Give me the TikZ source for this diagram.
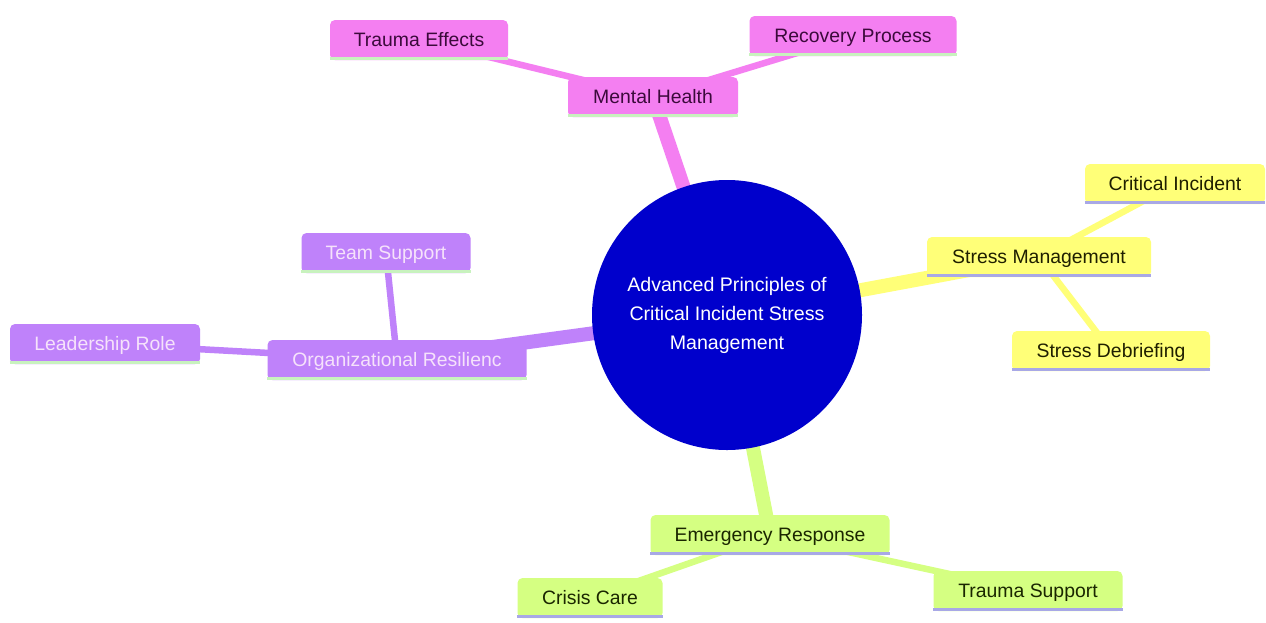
\documentclass[tikz,border=0pt]{standalone}
\usepackage{fontspec}
\setmainfont{Liberation Sans}
\pgfdeclarelayer{bg}
\pgfsetlayers{bg,main}
\definecolor{pinkF}{HTML}{F47FF1}
\definecolor{pinkT}{HTML}{3B0A3B}
\definecolor{yelF}{HTML}{FFFF78}
\definecolor{yelT}{HTML}{1F1F00}
\definecolor{purF}{HTML}{BF82FA}
\definecolor{purT}{HTML}{F6E2FA}
\definecolor{grnF}{HTML}{D5FF82}
\definecolor{grnT}{HTML}{1A2600}
\definecolor{lineG}{HTML}{C8F2BE}
\definecolor{lineL}{HTML}{A8A8E6}
\definecolor{rootF}{HTML}{0000CC}
\newcommand\mmunder[2]{\draw[line width=3pt,#2] ([yshift=1.5pt]#1.south west) -- ([yshift=1.5pt]#1.south east);}
\begin{document}
\begin{tikzpicture}[x=1pt,y=-1pt,
  mm/.style={inner xsep=0pt, inner ysep=0pt, minimum height=40pt, text height=13.8pt, text depth=0pt,
    font=\fontsize{19.4}{23}\selectfont, rounded corners=5pt},
  pinkN/.style={mm, fill=pinkF, text=pinkT},
  yelN/.style={mm, fill=yelF, text=yelT},
  purN/.style={mm, fill=purF, text=purT},
  grnN/.style={mm, fill=grnF, text=grnT},
  mainE/.style={line width=14pt},
  subE/.style={line width=6.5pt}]
\useasboundingbox (0,0) rectangle (1266,622);
\node[circle, fill=rootF, text=white, minimum size=270pt, inner sep=0pt, align=center,
  font=\fontsize{19.6}{29}\selectfont] (root) at (727,315)
  {Advanced Principles of\\Critical Incident Stress\\Management};
% Mental Health
\node[pinkN, minimum width=170pt] (mh) at (653,97) {Mental Health};
\node[pinkN, minimum width=178pt] (te) at (419,40) {Trauma Effects};
\node[pinkN, minimum width=207pt] (rp) at (853,36) {Recovery Process};
% Stress Management
\node[yelN, minimum width=224pt] (sm) at (1039,257) {Stress Management};
\node[yelN, minimum width=180pt] (ci) at (1175,184) {Critical Incident};
\node[yelN, minimum width=198pt] (sd) at (1111,351) {Stress Debriefing};
% Organizational Resilience
\node[purN, minimum width=259pt] (orr) at (397,360) {Organizational Resilienc};
\node[purN, minimum width=169pt] (ts) at (386,253) {Team Support};
\node[purN, minimum width=190pt] (lr) at (105,344) {Leadership Role};
% Emergency Response
\node[grnN, minimum width=239pt] (er) at (770,535) {Emergency Response};
\node[grnN, minimum width=145pt] (cc) at (590,598) {Crisis Care};
\node[grnN, minimum width=189pt] (tsu) at (1028,591) {Trauma Support};
% underlines
\mmunder{mh}{lineG}\mmunder{te}{lineG}\mmunder{rp}{lineG}
\mmunder{orr}{lineG}\mmunder{ts}{lineG}\mmunder{lr}{lineG}
\mmunder{sm}{lineL}\mmunder{ci}{lineL}\mmunder{sd}{lineL}
\mmunder{er}{lineL}\mmunder{cc}{lineL}\mmunder{tsu}{lineL}
\begin{pgfonlayer}{bg}
\fill[white] (0,0) rectangle (1266,622);
\draw[mainE, pinkF] (root.center) -- (mh.center);
\draw[subE, pinkF] (mh.center) -- (te.center);
\draw[subE, pinkF] (mh.center) -- (rp.center);
\draw[mainE, yelF] (root.center) -- (sm.center);
\draw[subE, yelF] (sm.center) -- (ci.center);
\draw[subE, yelF] (sm.center) -- (sd.center);
\draw[mainE, purF] (root.center) -- (orr.center);
\draw[subE, purF] (orr.center) -- (ts.center);
\draw[subE, purF] (orr.center) -- (lr.center);
\draw[mainE, grnF] (root.center) -- (er.center);
\draw[subE, grnF] (er.center) -- (cc.center);
\draw[subE, grnF] (er.center) -- (tsu.center);
\end{pgfonlayer}
\end{tikzpicture}
\end{document}
